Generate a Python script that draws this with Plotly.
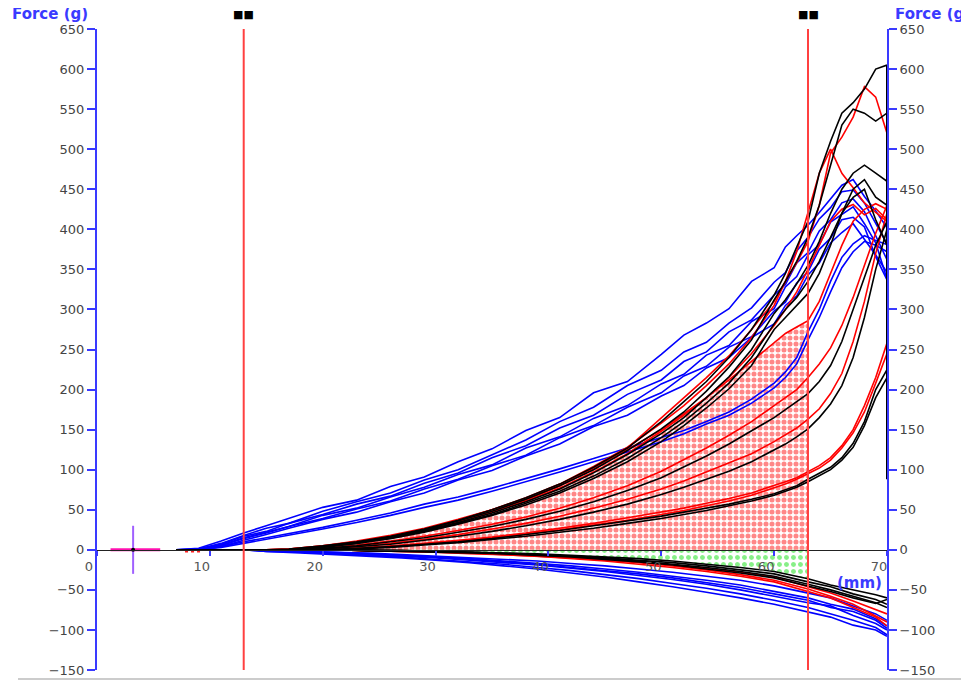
import plotly.graph_objects as go

# ---------------- data ----------------
X_UP = [7, 9, 11, 13, 15, 17, 20, 23, 26, 29, 32, 35, 38, 41, 44, 47, 50, 52, 54, 56, 58, 60, 61, 62, 63, 64, 65, 66, 67, 68, 69, 70]

BLUE_UP = [
    [0, 2, 11, 21, 30, 39, 53, 62, 79, 91, 110, 126, 149, 165, 196, 210, 244, 268, 283, 301, 335, 352, 378, 392, 405, 421, 438, 455, 462, 441, 423, 402],
    [0, 1, 8, 18, 27, 33, 48, 60, 71, 87, 100, 119, 137, 160, 178, 205, 224, 247, 259, 283, 302, 334, 346, 373, 390, 413, 427, 447, 449, 433, 407, 382],
    [0, 1, 7, 17, 23, 33, 44, 57, 67, 83, 96, 115, 130, 152, 168, 194, 212, 235, 247, 272, 287, 318, 331, 358, 371, 398, 412, 433, 438, 422, 392, 362],
    [0, 0, 6, 15, 22, 29, 43, 52, 66, 78, 94, 106, 127, 141, 164, 180, 207, 219, 243, 255, 285, 301, 328, 341, 368, 381, 409, 418, 428, 407, 383, 338],
    [0, 0, 5, 14, 21, 29, 39, 51, 61, 76, 88, 105, 118, 140, 155, 178, 196, 217, 229, 253, 266, 298, 309, 333, 347, 375, 389, 412, 415, 403, 366, 337],
    [0, 0, 4, 12, 19, 27, 38, 47, 60, 71, 87, 99, 117, 132, 154, 168, 192, 205, 227, 240, 265, 282, 305, 317, 343, 358, 383, 396, 407, 388, 368, 346],
    [0, 0, 4, 10, 15, 20, 28, 37, 46, 57, 66, 77, 89, 101, 114, 127, 140, 149, 160, 172, 188, 208, 222, 240, 272, 300, 335, 365, 382, 392, 386, 381],
    [0, 0, 3, 8, 13, 18, 26, 34, 43, 53, 62, 73, 85, 97, 110, 122, 135, 145, 157, 168, 183, 202, 215, 232, 262, 290, 322, 352, 372, 385, 380, 372],
]

RED_UP = [
    [0, 0, 0, 0, 0, 1, 5, 11, 18, 27, 38, 50, 64, 80, 101, 127, 165, 190, 215, 242, 275, 310, 335, 358, 385, 430, 495, 515, 540, 578, 565, 520],
    [0, 0, 0, 0, 0, 1, 4, 9, 15, 24, 35, 47, 62, 80, 102, 125, 150, 170, 190, 212, 235, 258, 270, 278, 286, 310, 345, 380, 410, 425, 432, 425],
    [0, 0, 0, 0, 0, 1, 5, 10, 17, 26, 37, 50, 65, 82, 104, 128, 158, 180, 205, 232, 265, 305, 335, 372, 420, 470, 500, 470, 452, 433, 421, 410],
    [0, 0, 0, 0, 0, 0, 4, 9, 16, 25, 35, 47, 61, 77, 97, 120, 148, 168, 190, 215, 245, 280, 300, 322, 350, 380, 410, 425, 431, 418, 426, 412],
    [0, 0, 0, 0, 0, 0, 2, 6, 11, 17, 24, 32, 41, 52, 65, 80, 98, 112, 127, 143, 160, 180, 190, 200, 215, 232, 252, 280, 315, 355, 395, 430],
    [0, 0, 0, 0, 0, 0, 1, 4, 8, 13, 19, 26, 33, 42, 52, 63, 76, 86, 97, 108, 120, 135, 143, 152, 163, 176, 195, 220, 260, 310, 370, 420],
    [0, 0, 0, 0, 0, 0, 0, 2, 5, 8, 12, 16, 21, 27, 33, 40, 47, 52, 58, 64, 71, 80, 85, 90, 98, 105, 115, 130, 150, 180, 215, 258],
    [0, 0, 0, 0, 0, 0, 0, 2, 4, 7, 11, 15, 20, 25, 31, 37, 44, 49, 55, 61, 68, 77, 82, 88, 95, 102, 112, 127, 146, 172, 208, 245],
]

BLACK_UP = [
    [0, 0, 0, 0, 0, 1, 5, 10, 17, 26, 37, 50, 65, 82, 103, 127, 160, 185, 210, 240, 275, 318, 345, 378, 410, 470, 510, 545, 558, 575, 600, 605],
    [0, 0, 0, 0, 0, 0, 4, 9, 16, 25, 36, 48, 63, 80, 100, 124, 151, 172, 198, 228, 262, 312, 335, 360, 390, 430, 480, 530, 550, 545, 535, 545],
    [0, 0, 0, 0, 0, 0, 4, 9, 15, 24, 34, 46, 60, 76, 96, 119, 145, 165, 190, 216, 250, 295, 312, 332, 355, 385, 420, 450, 470, 480, 470, 460],
    [0, 0, 0, 0, 0, 0, 4, 8, 15, 23, 33, 44, 58, 73, 92, 114, 140, 160, 183, 208, 240, 282, 300, 315, 335, 360, 390, 420, 450, 462, 440, 430],
    [0, 0, 0, 0, 0, 0, 3, 8, 14, 22, 32, 43, 56, 71, 89, 110, 135, 155, 177, 201, 230, 275, 290, 305, 320, 345, 380, 420, 440, 450, 412, 380],
    [0, 0, 0, 0, 0, 0, 2, 5, 10, 15, 22, 29, 38, 48, 60, 74, 90, 103, 117, 132, 148, 165, 175, 185, 195, 210, 230, 260, 300, 340, 380, 410],
    [0, 0, 0, 0, 0, 0, 1, 4, 7, 12, 17, 23, 30, 38, 47, 57, 69, 78, 88, 98, 110, 124, 132, 141, 151, 165, 182, 205, 240, 290, 350, 400],
    [0, 0, 0, 0, 0, 0, 0, 2, 4, 7, 10, 14, 19, 24, 30, 36, 42, 47, 52, 57, 63, 70, 75, 80, 88, 95, 103, 115, 133, 160, 200, 225],
    [0, 0, 0, 0, 0, 0, 0, 1, 3, 6, 9, 13, 17, 22, 27, 33, 39, 44, 49, 55, 61, 68, 73, 78, 85, 92, 100, 112, 128, 155, 190, 215],
]

# final vertical drop of the black trace at the end of travel
DROP_X = [70, 70]
DROP_Y = [605, 88]

X_NEG = [13, 15, 18, 21, 24, 27, 30, 33, 36, 39, 42, 45, 48, 51, 54, 57, 60, 63, 65, 67, 69, 70]

BLUE_NEG = [
    [0, -1, -2, -3, -4, -6, -8, -10, -12, -14, -17, -20, -24, -28, -33, -38, -45, -54, -60, -70, -80, -88],
    [0, -1, -2, -4, -5, -7, -9, -11, -14, -17, -20, -24, -28, -33, -38, -44, -52, -60, -68, -74, -86, -95],
    [0, -1, -3, -4, -6, -8, -10, -13, -16, -19, -23, -27, -32, -37, -43, -50, -58, -66, -70, -82, -92, -100],
    [0, -2, -3, -5, -7, -9, -12, -15, -18, -22, -26, -31, -36, -42, -48, -55, -63, -72, -80, -88, -97, -106],
    [0, -2, -4, -6, -8, -10, -13, -16, -20, -24, -29, -34, -40, -46, -53, -60, -68, -78, -84, -94, -100, -108],
    [0, -1, -2, -3, -5, -7, -9, -12, -15, -18, -22, -26, -30, -35, -41, -47, -55, -63, -72, -77, -88, -98],
]

BLACK_NEG = [
    [0, 0, 0, 0, -1, -1, -2, -3, -4, -5, -7, -9, -11, -14, -18, -22, -27, -36, -44, -50, -56, -60],
    [0, 0, 0, 0, -1, -1, -2, -3, -4, -6, -8, -10, -13, -16, -20, -25, -30, -40, -46, -55, -62, -68],
    [0, 0, 0, 0, 0, -1, -2, -3, -5, -6, -8, -11, -14, -18, -22, -27, -33, -43, -50, -58, -66, -72],
    [0, 0, 0, 0, -1, -2, -3, -4, -5, -7, -9, -12, -15, -19, -24, -29, -35, -45, -52, -60, -67, -62],
]

RED_NEG = [
    [0, 0, 0, 0, -1, -2, -3, -4, -6, -8, -10, -13, -16, -20, -25, -31, -38, -49, -58, -68, -82, -90],
    [0, 0, 0, 0, -1, -2, -3, -5, -6, -8, -11, -14, -18, -22, -27, -33, -40, -52, -60, -72, -84, -95],
    [0, 0, 0, 0, -1, -1, -2, -4, -5, -7, -9, -12, -15, -19, -23, -28, -34, -46, -54, -64, -75, -80],
]

START_X = [1.2, 5.6]
START_Y = [0, 0]
CROSS_X = [3.2, 3.2]
CROSS_Y = [30, -30]
RED_START_X = [7.8, 9.3]
RED_START_Y = [-2, -2]

CURSORS = [13, 63]          # red cursor lines (mm)
FILL_CURVE = 1              # index of red curve whose area is shaded
Y_TICKS = list(range(-150, 651, 50))
X_TICKS = list(range(0, 71, 10))

# ---------------- figure ----------------
fig = go.Figure()

# shaded areas between the cursors
fx = [x for x in X_UP if CURSORS[0] <= x <= CURSORS[1]]
fy = [y for x, y in zip(X_UP, RED_UP[FILL_CURVE]) if CURSORS[0] <= x <= CURSORS[1]]
fig.add_trace(go.Scatter(x=fx, y=fy, mode="lines", line=dict(width=0, color="rgba(0,0,0,0)"),
                         fill="tozeroy",
                         fillpattern=dict(shape=".", fgcolor="#ff1010", bgcolor="rgba(255,255,255,0)",
                                          size=6, solidity=0.55),
                         hoverinfo="skip", showlegend=False))
gx = [x for x in X_NEG if CURSORS[0] <= x <= CURSORS[1]]
gy = [y for x, y in zip(X_NEG, BLACK_NEG[0]) if CURSORS[0] <= x <= CURSORS[1]]
fig.add_trace(go.Scatter(x=gx, y=gy, mode="lines", line=dict(width=0, color="rgba(0,0,0,0)"),
                         fill="tozeroy",
                         fillpattern=dict(shape=".", fgcolor="#10e010", bgcolor="rgba(255,255,255,0)",
                                          size=7, solidity=0.4),
                         hoverinfo="skip", showlegend=False))

LW = 1.6
for ys in BLUE_UP:
    fig.add_trace(go.Scatter(x=X_UP, y=ys, mode="lines", line=dict(color="#0000ff", width=LW), showlegend=False))
for ys in BLUE_NEG:
    fig.add_trace(go.Scatter(x=X_NEG, y=ys, mode="lines", line=dict(color="#0000ff", width=LW), showlegend=False))
for ys in RED_UP:
    fig.add_trace(go.Scatter(x=X_UP, y=ys, mode="lines", line=dict(color="#ff0000", width=LW), showlegend=False))
for ys in RED_NEG:
    fig.add_trace(go.Scatter(x=X_NEG, y=ys, mode="lines", line=dict(color="#ff0000", width=LW), showlegend=False))
for ys in BLACK_UP:
    fig.add_trace(go.Scatter(x=X_UP, y=ys, mode="lines", line=dict(color="#000000", width=LW), showlegend=False))
for ys in BLACK_NEG:
    fig.add_trace(go.Scatter(x=X_NEG, y=ys, mode="lines", line=dict(color="#000000", width=LW), showlegend=False))
fig.add_trace(go.Scatter(x=DROP_X, y=DROP_Y, mode="lines", line=dict(color="#000000", width=2), showlegend=False))

# start markers
fig.add_trace(go.Scatter(x=START_X, y=START_Y, mode="lines", line=dict(color="#ff10b0", width=3), showlegend=False))
fig.add_trace(go.Scatter(x=RED_START_X, y=RED_START_Y, mode="lines", line=dict(color="#ff2020", width=2, dash="dot"), showlegend=False))
fig.add_trace(go.Scatter(x=CROSS_X, y=CROSS_Y, mode="lines", line=dict(color="#a060ff", width=2), showlegend=False))
fig.add_trace(go.Scatter(x=[CROSS_X[0]], y=[0], mode="markers", marker=dict(color="black", size=4), showlegend=False))

for c in CURSORS:
    fig.add_vline(x=c, line_color="#ff4040", line_width=2)
    fig.add_annotation(x=c, y=1, xref="x", yref="paper", yshift=15, yanchor="middle",
                       text="■■", showarrow=False, font=dict(size=11, color="black"))

TFONT = "DejaVu Sans, Liberation Sans, sans-serif"
AXBLUE = "#3a3aff"

fig.add_annotation(x=-0.11, y=1, xref="paper", yref="paper", yshift=15, xanchor="left", yanchor="middle",
                   text="<b>Force (g)</b>", showarrow=False, font=dict(size=15, color=AXBLUE, family=TFONT))
fig.add_annotation(x=1.007, y=1, xref="paper", yref="paper", yshift=15, xanchor="left", yanchor="middle",
                   text="<b>Force (g)</b>", showarrow=False, font=dict(size=15, color=AXBLUE, family=TFONT))
fig.add_annotation(x=67.6, y=-41, xref="x", yref="y", text="<b>(mm)</b>", showarrow=False,
                   font=dict(size=15, color=AXBLUE, family=TFONT))

# the page body adds an offset of about 8px, so the figure and margins are reduced by 8
fig.update_layout(
    width=961, height=673,
    margin=dict(l=89, r=82, t=21, b=11),
    paper_bgcolor="white", plot_bgcolor="white",
    font=dict(family=TFONT, color="#444444", size=13),
    showlegend=False,
    xaxis=dict(range=[0, 70], tickvals=X_TICKS, showgrid=False, zeroline=False, automargin=False,
               anchor="free", position=150 / 800, showline=True, linecolor="#222222", linewidth=1,
               ticks="outside", ticklen=5, tickcolor=AXBLUE, tickwidth=2,
               ticklabelshift=-8, ticklabelstandoff=0,
               tickfont=dict(size=13, color="#555555", family=TFONT)),
    yaxis=dict(range=[-150, 650], tickvals=Y_TICKS, showgrid=False, zeroline=False, automargin=False,
               showline=True, linecolor=AXBLUE, linewidth=2,
               ticks="outside", ticklen=8, tickcolor=AXBLUE, tickwidth=2,
               tickfont=dict(size=13, color="#444444", family=TFONT)),
    yaxis2=dict(range=[-150, 650], tickvals=Y_TICKS, showgrid=False, zeroline=False, automargin=False,
                overlaying="y", side="right", anchor="x",
                showline=True, linecolor=AXBLUE, linewidth=2,
                ticks="outside", ticklen=8, tickcolor=AXBLUE, tickwidth=2,
                tickfont=dict(size=13, color="#444444", family=TFONT)),
)
# dummy trace so right axis renders
fig.add_trace(go.Scatter(x=[None], y=[None], yaxis="y2", showlegend=False))

fig.add_shape(type="line", xref="paper", yref="paper", x0=-0.1, x1=1.11, y0=-0.014, y1=-0.014,
              line=dict(color="#cccccc", width=2))

fig.write_html("out.html")
